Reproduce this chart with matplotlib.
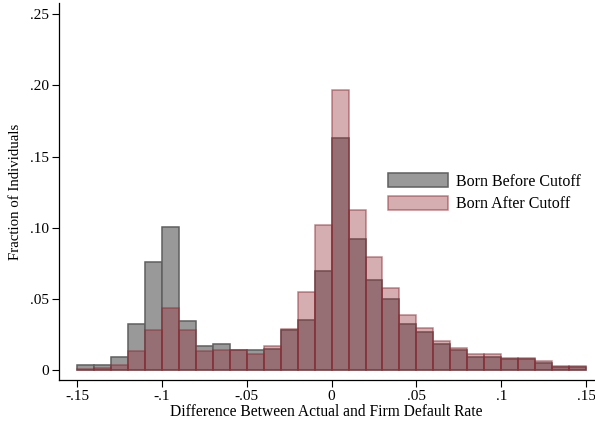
#!/usr/bin/env python

import numpy as np
import matplotlib
matplotlib.use("Agg")
import matplotlib.pyplot as plt

# left edges of the 0.01-wide bins
bin_left = [-0.15, -0.14, -0.13, -0.12, -0.11, -0.10, -0.09, -0.08, -0.07, -0.06,
            -0.05, -0.04, -0.03, -0.02, -0.01, 0.00, 0.01, 0.02, 0.03, 0.04,
            0.05, 0.06, 0.07, 0.08, 0.09, 0.10, 0.11, 0.12, 0.13, 0.14]

# fraction of individuals in each bin
born_before = [0.0040, 0.0035, 0.0096, 0.0325, 0.0760, 0.1007, 0.0346, 0.0170, 0.0185, 0.0143,
               0.0143, 0.0152, 0.0280, 0.0356, 0.0700, 0.1627, 0.0925, 0.0637, 0.0500, 0.0325,
               0.0272, 0.0187, 0.0140, 0.0096, 0.0094, 0.0082, 0.0080, 0.0052, 0.0023, 0.0021]
born_after = [0.0010, 0.0014, 0.0035, 0.0138, 0.0280, 0.0440, 0.0286, 0.0136, 0.0145, 0.0143,
              0.0112, 0.0173, 0.0290, 0.0553, 0.1018, 0.1964, 0.1126, 0.0798, 0.0580, 0.0390,
              0.0295, 0.0208, 0.0160, 0.0117, 0.0115, 0.0089, 0.0089, 0.0063, 0.0033, 0.0033]

xticks = [-0.15, -0.1, -0.05, 0, 0.05, 0.1, 0.15]
xtick_labels = ["-.15", "-.1", "-.05", "0", ".05", ".1", ".15"]
yticks = [0, 0.05, 0.10, 0.15, 0.20, 0.25]
ytick_labels = ["0", ".05", ".10", ".15", ".20", ".25"]

plt.rcParams["font.family"] = ["Liberation Serif", "DejaVu Serif"]

cran = (145 / 255, 43 / 255, 53 / 255)

fig = plt.figure(figsize=(5.95, 4.25), dpi=100)
ax = fig.add_axes([0.0987, 0.105, 0.8993, 0.888])

ax.bar(bin_left, born_before, width=0.01, align="edge",
       facecolor="#999999", edgecolor="#5f5f5f", linewidth=1.1,
       label="Born Before Cutoff")
ax.bar(bin_left, born_after, width=0.01, align="edge",
       facecolor=cran + (0.38,), edgecolor=cran + (0.55,), linewidth=1.1,
       label="Born After Cutoff")

ax.set_xlim(-0.1609, 0.1546)
ax.set_ylim(-0.007, 0.2577)
ax.set_xticks(xticks)
ax.set_xticklabels(xtick_labels)
ax.set_yticks(yticks)
ax.set_yticklabels(ytick_labels)
ax.tick_params(direction="out", length=5, width=0.8, labelsize=11, pad=2)
for side in ["top", "right"]:
    ax.spines[side].set_visible(False)
for side in ["left", "bottom"]:
    ax.spines[side].set_linewidth(0.9)

ax.set_xlabel("Difference Between Actual and Firm Default Rate", fontsize=11.2, labelpad=1)
ax.set_ylabel("Fraction of Individuals", fontsize=10.7, labelpad=6)

ax.legend(loc="upper left", bbox_to_anchor=(0.652, 0.592), bbox_transform=fig.transFigure,
          frameon=False, fontsize=11.5, handlelength=3.75, handleheight=0.94,
          handletextpad=0.5, labelspacing=0.4, borderpad=0, borderaxespad=0)

plt.savefig("out.png", dpi=100)
plt.close(fig)
